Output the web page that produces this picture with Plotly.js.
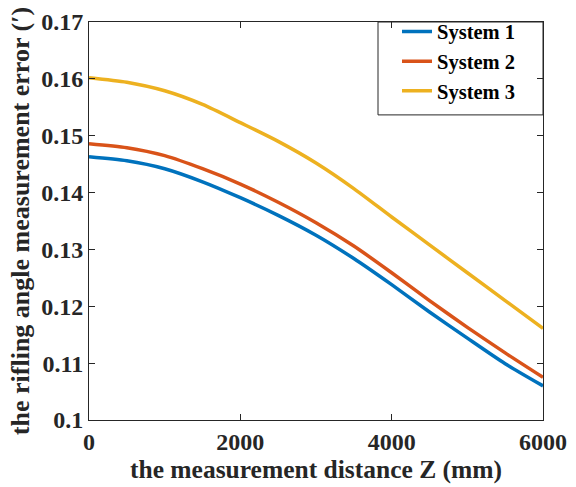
<!DOCTYPE html>
<html>
<head>
<meta charset="utf-8">
<script src="https://cdn.plot.ly/plotly-3.0.1.min.js"></script>
<style>html,body{margin:0;padding:0;background:#fff;}#chart{width:576px;height:487px;}</style>
</head>
<body>
<div id="chart"></div>
<script>
const distance = [0, 500, 1000, 1500, 2000, 2500, 3000, 3500, 4000, 4500, 5000, 5500, 6000];
const system1 = [0.1463, 0.1456, 0.1442, 0.1419, 0.1391, 0.1360, 0.1325, 0.1284, 0.1238, 0.1190, 0.1144, 0.1099, 0.1060];
const system2 = [0.1486, 0.1479, 0.1465, 0.1442, 0.1415, 0.1383, 0.1347, 0.1306, 0.1259, 0.1210, 0.1163, 0.1118, 0.1075];
const system3 = [0.1602, 0.1594, 0.1579, 0.1555, 0.1523, 0.1490, 0.1452, 0.1407, 0.1357, 0.1308, 0.1259, 0.1210, 0.1161];
const seriesNames = ['System 1', 'System 2', 'System 3'];
const xTicks = [0, 2000, 4000, 6000];
const yTicks = [0.1, 0.11, 0.12, 0.13, 0.14, 0.15, 0.16, 0.17];
const yTickText = ['0.1', '0.11', '0.12', '0.13', '0.14', '0.15', '0.16', '0.17'];

const colors = ['#0072BD', '#D95319', '#EDB120'];
const fam = '"Liberation Serif", "Times New Roman", Times, serif';
const allY = [system1, system2, system3];
const traces = allY.map((ys, i) => ({
  x: distance, y: ys, name: seriesNames[i], type: 'scatter', mode: 'lines',
  line: {color: colors[i], width: 3.5, shape: 'spline', smoothing: 0.7}
}));

const axisBase = {
  showline: true, linecolor: '#262626', linewidth: 1, mirror: 'ticks',
  ticks: 'inside', ticklen: 6, tickcolor: '#262626', tickwidth: 1,
  showgrid: false, zeroline: false,
  tickfont: {family: fam, size: 24, color: '#262626', weight: 'bold'}
};

const layout = {
  width: 576, height: 487,
  margin: {l: 89, r: 33, t: 13, b: 67},
  paper_bgcolor: '#fff', plot_bgcolor: '#fff',
  font: {family: fam, size: 20, color: '#000', weight: 'bold'},
  xaxis: Object.assign({}, axisBase, {
    range: [0, 6000], tickmode: 'array', tickvals: xTicks, ticktext: xTicks.map(String),
    title: {text: 'the measurement distance Z (mm)', standoff: 2,
      font: {family: fam, size: 25.5, color: '#262626', weight: 'bold'}}
  }),
  yaxis: Object.assign({}, axisBase, {
    range: [0.1, 0.17], tickmode: 'array', tickvals: yTicks, ticktext: yTickText,
    title: {text: 'the rifling angle measurement error (′)', standoff: 4,
      font: {family: fam, size: 26, color: '#262626', weight: 'bold'}}
  }),
  legend: {
    x: (397 - 89) / 454, y: 1.026, xanchor: 'left', yanchor: 'top',
    bgcolor: 'rgba(0,0,0,0)', borderwidth: 0,
    font: {family: fam, size: 20.5, color: '#000', weight: 'bold'},
    itemwidth: 30, tracegroupgap: 0
  },
  shapes: [{
    type: 'rect', xref: 'paper', yref: 'paper',
    x0: (378 - 89) / 454, x1: 1, y0: (420 - 108) / 407, y1: 1,
    line: {color: '#262626', width: 1}, fillcolor: '#fff', layer: 'below'
  }],
  showlegend: true
};

Plotly.newPlot('chart', traces, layout, {displayModeBar: false, staticPlot: true});
</script>
</body>
</html>
